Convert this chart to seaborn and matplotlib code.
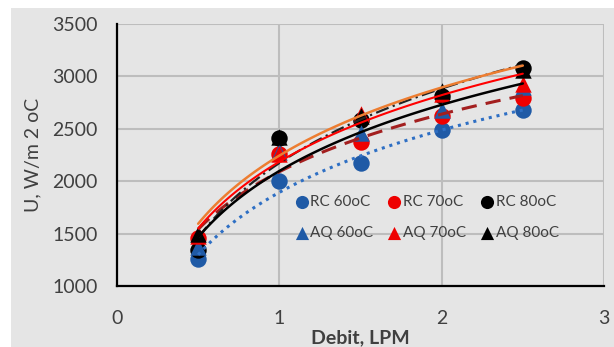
import matplotlib
matplotlib.use("Agg")
import matplotlib.pyplot as plt
from matplotlib.patches import Rectangle
import seaborn as sns
import numpy as np

sns.set_theme(style="white")
plt.rcParams["font.family"] = ["Lato", "DejaVu Sans"]

# Flow rate (LPM) and overall heat transfer coefficient U (W/m2 oC)
debit = [0.5, 1.0, 1.5, 2.0, 2.5]
rc_60 = [1260, 2000, 2170, 2490, 2680]
rc_70 = [1460, 2260, 2370, 2620, 2790]
rc_80 = [1340, 2410, 2580, 2810, 3080]
aq_60 = [1370, 2280, 2460, 2680, 2900]
aq_70 = [1480, 2260, 2640, 2830, 2930]
aq_80 = [1500, 2420, 2620, 2860, 3060]

labels = ["RC 60oC", "RC 70oC", "RC 80oC", "AQ 60oC", "AQ 70oC", "AQ 80oC"]
x_ticks = [0, 1, 2, 3]
y_ticks = [1000, 1500, 2000, 2500, 3000, 3500]

blue = "#1f5aa6"
red = "#ee0000"
black = "#000000"

series = [
    (rc_60, labels[0], "o", blue),
    (rc_70, labels[1], "o", red),
    (rc_80, labels[2], "o", black),
    (aq_60, labels[3], "^", blue),
    (aq_70, labels[4], "^", red),
    (aq_80, labels[5], "^", black),
]

# logarithmic trend line styles per series
trend_styles = [
    dict(color="#2e6fc4", linestyle=(0, (1, 1.6)), linewidth=2.2),
    dict(color="#a31f1f", linestyle=(0, (5, 3)), linewidth=2.2),
    dict(color="#222222", linestyle=(0, (6, 2, 1, 2)), linewidth=1.6),
    dict(color="#000000", linestyle="-", linewidth=1.8),
    dict(color="#ff0000", linestyle="-", linewidth=1.5),
    dict(color="#ed7d31", linestyle="-", linewidth=1.8),
]

fig = plt.figure(figsize=(6.14, 3.47), dpi=100, facecolor="white")
fig.patches.append(Rectangle((11 / 614, 0), 1, 1 - 8 / 347, transform=fig.transFigure,
                             facecolor="#e5e5e5", edgecolor="none", zorder=-5))
ax = fig.add_axes([117 / 614, 1 - 286 / 347, 487 / 614, 262 / 347])
ax.set_facecolor("#e5e5e5")

for i, (vals, lab, mk, col) in enumerate(series):
    sns.scatterplot(x=debit, y=vals, ax=ax, marker=mk, color=col, s=140 if mk == "o" else 140,
                    linewidth=0, label=lab, zorder=3 + i * 0.1)

for (vals, lab, mk, col), st in zip(series, trend_styles):
    sns.regplot(x=np.array(debit), y=np.array(vals), ax=ax, logx=True, scatter=False,
                ci=None, truncate=True, line_kws=dict(zorder=5, **st))

ax.set_xlim(0, 3)
ax.set_ylim(1000, 3500)
ax.set_xticks(x_ticks)
ax.set_yticks(y_ticks)
ax.grid(True, color="#bdbdbd", linewidth=1.5)
ax.set_axisbelow(True)
for side in ["top", "right"]:
    ax.spines[side].set_visible(False)
for side in ["left", "bottom"]:
    ax.spines[side].set_color("black")
    ax.spines[side].set_linewidth(1.6)
    ax.spines[side].set_zorder(6)

ax.tick_params(axis="x", length=0, pad=17, labelsize=14, labelcolor="#404040")
ax.tick_params(axis="y", length=0, pad=14, labelsize=14, labelcolor="#404040")
ax.set_xlabel("Debit, LPM", fontsize=14, fontweight="bold", color="#404040", labelpad=2)
ax.set_ylabel("U, W/m 2 oC", fontsize=14, color="#404040", labelpad=8)

h, l = ax.get_legend_handles_labels()
lookup = dict(zip(l, h))
order = ["RC 60oC", "AQ 60oC", "RC 70oC", "AQ 70oC", "RC 80oC", "AQ 80oC"]
ax.legend([lookup[k] for k in order], order, ncol=3, frameon=False, loc="upper left",
          bbox_to_anchor=(0.335, 0.40), fontsize=11, handletextpad=0.05,
          columnspacing=0.9, labelspacing=1.1, handlelength=1.0, markerscale=0.8,
          labelcolor="#404040")

fig.savefig("out.png", dpi=100, facecolor="white")
